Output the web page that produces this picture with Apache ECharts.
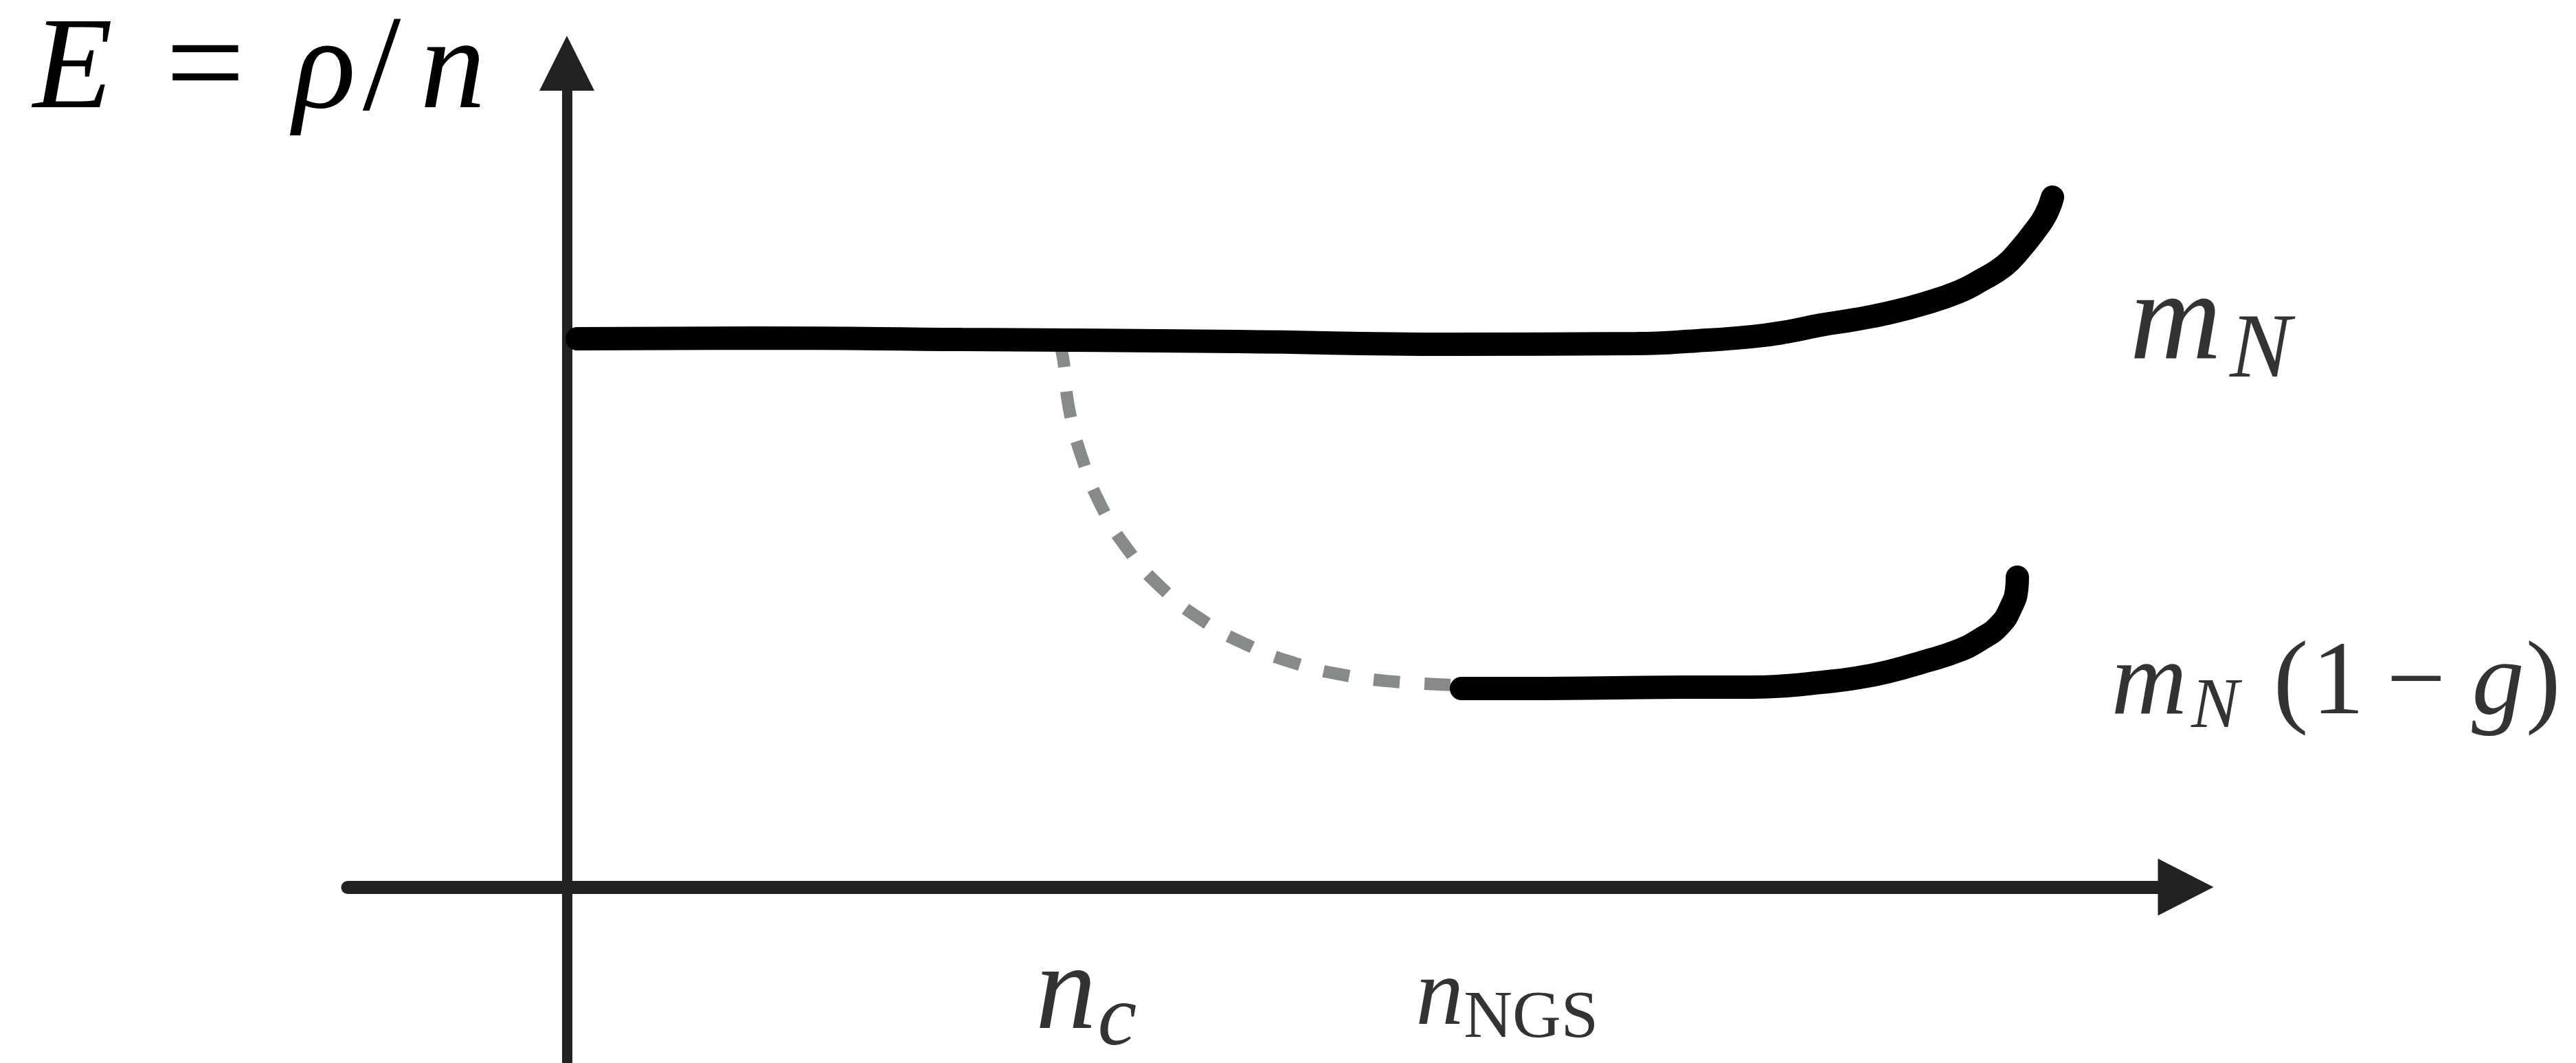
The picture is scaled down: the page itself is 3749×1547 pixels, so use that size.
<!DOCTYPE html>
<html>
<head>
<meta charset="utf-8">
<style>
html,body{margin:0;padding:0;background:#ffffff;}
#chart{width:3749px;height:1547px;}
</style>
<script src="https://cdn.jsdelivr.net/npm/echarts@6/dist/echarts.min.js"></script>
</head>
<body>
<div id="chart"></div>
<script>
// ---- data (axis units: x 0..100, y 0..100) ----
const upperCurve = [[0.64,66.56],[11.67,66.64],[24.41,66.47],[41.38,66.22],[54.71,65.89],[66.09,65.97],[69.82,66.31],[73.22,66.81],[75.34,67.39],[77.46,68.22],[79.58,68.89],[81.71,69.72],[83.83,70.81],[85.95,72.23],[87.35,73.64],[88.79,75.40],[89.77,77.40],[90.62,79.48],[91.34,81.57],[91.77,83.74]];
const lowerCurve = [[55.26,24.10],[60.48,24.10],[64.73,24.19],[68.97,24.27],[73.22,24.27],[75.34,24.44],[77.46,24.85],[79.58,25.35],[81.71,26.19],[83.83,27.36],[85.95,28.69],[87.35,30.11],[88.50,31.78],[89.22,34.03],[89.56,36.20],[89.60,37.61]];
const dashedCurve = [[30.39,66.22],[30.65,64.22],[31.03,57.96],[31.83,52.04],[33.02,46.21],[34.63,41.03],[36.76,36.28],[39.22,32.44],[41.98,29.44],[44.95,27.19],[47.92,25.77],[51.10,24.94],[55.18,24.52]];
const tickValues = [32.1, 58.1];
const tickLabelY = -5.84;
const tickLabels = ['{n|n}{c|c}', '{nn|n}{ngs|NGS}'];
const curveLabelPos = [[96.56,68.22],[95.42,24.40]];
const curveLabelText = ['{m|m}{N|N}', '{m2|m}{N2|N}{p|(}{r|1}{mi|−}{g|g}{q|)}'];
const axisTitle = '{i|E}{e|=}{i|ρ}{s|/}{n|n}';

const F = '"Liberation Serif", "Times New Roman", serif';
const it = (size, lh, pad) => ({fontFamily:F, fontStyle:'italic', fontWeight:'normal', fontSize:size, lineHeight:lh, color:'#000', padding: pad || [0,0,0,0]});
const up = (size, lh, pad) => ({fontFamily:F, fontStyle:'normal', fontWeight:'normal', fontSize:size, lineHeight:lh, color:'#000', padding: pad || [0,0,0,0]});

const chart = echarts.init(document.getElementById('chart'), null, {renderer:'canvas'});
chart.setOption({
  animation: false,
  backgroundColor: '#ffffff',
  title: {
    text: axisTitle,
    left: 48, top: 11, padding: 0,
    textStyle: {
      fontFamily: F, fontSize: 190, lineHeight: 190, fontWeight: 'normal',
      rich: {
        i: it(190, 190),
        e: up(205, 190, [0,70,0,77]),
        s: up(200, 190, [0,28,0,10]),
        n: it(190, 190)
      }
    }
  },
  grid: {left: 506, right: 568, top: 92, bottom: 0, containLabel: false, outerBoundsMode: 'none'},
  xAxis: {
    type: 'value', min: -13.54, max: 100,
    splitLine: {show: false}, axisTick: {show: false}, axisLabel: {show: false},
    axisLine: {show: true, onZero: true, symbol: ['none','triangle'], symbolSize: [83,81],
      lineStyle: {color: '#222222', width: 19}}
  },
  yAxis: {
    type: 'value', min: -21.35, max: 100,
    splitLine: {show: false}, axisTick: {show: false}, axisLabel: {show: false},
    axisLine: {show: true, onZero: true, symbol: ['none','triangle'], symbolSize: [80,80],
      lineStyle: {color: '#222222', width: 15}}
  },
  series: [
    {
      type: 'line', name: 'transition', data: dashedCurve, smooth: 0.5,
      showSymbol: false, symbol: 'none', clip: false, silent: true, z: 2,
      lineStyle: {color: '#878a8a', width: 18, type: [38, 36], cap: 'butt'}
    },
    {
      type: 'line', name: 'mN', data: upperCurve, smooth: 0.5,
      showSymbol: false, symbol: 'none', clip: false, silent: true, z: 3,
      lineStyle: {color: '#000000', width: 34, cap: 'round'}
    },
    {
      type: 'line', name: 'mN(1-g)', data: lowerCurve, smooth: 0.5,
      showSymbol: false, symbol: 'none', clip: false, silent: true, z: 3,
      lineStyle: {color: '#000000', width: 34, cap: 'round'}
    },
    {
      type: 'scatter', name: 'ticks', symbolSize: 1, silent: true, z: 4,
      itemStyle: {color: 'rgba(0,0,0,0)'},
      data: tickValues.map((v, i) => ({value: [v, tickLabelY], label: {formatter: tickLabels[i]}})),
      label: {
        show: true, position: [0, 0], align: 'center', verticalAlign: 'top',
        rich: {
          n: it(177, 177),
          c: it(128, 177, [74,0,0,2]),
          nn: it(140, 185),
          ngs: up(98, 185, [61,0,0,0])
        }
      }
    },
    {
      type: 'scatter', name: 'labels', symbolSize: 1, silent: true, z: 4,
      itemStyle: {color: 'rgba(0,0,0,0)'},
      data: curveLabelPos.map((p, i) => ({value: p, label: {formatter: curveLabelText[i]}})),
      label: {
        show: true, position: [0, 0], align: 'left', verticalAlign: 'middle',
        rich: {
          m: it(185, 185),
          N: it(134, 185, [80,0,0,12]),
          m2: it(153, 153),
          N2: it(104, 153, [66,20,0,6]),
          p: up(153, 153, [0,0,0,30]),
          r: up(153, 153, [0,0,0,5]),
          mi: up(153, 153, [0,38,0,32]),
          g: it(153, 153),
          q: up(153, 153, [0,0,0,2])
        }
      }
    }
  ]
});
</script>
</body>
</html>
